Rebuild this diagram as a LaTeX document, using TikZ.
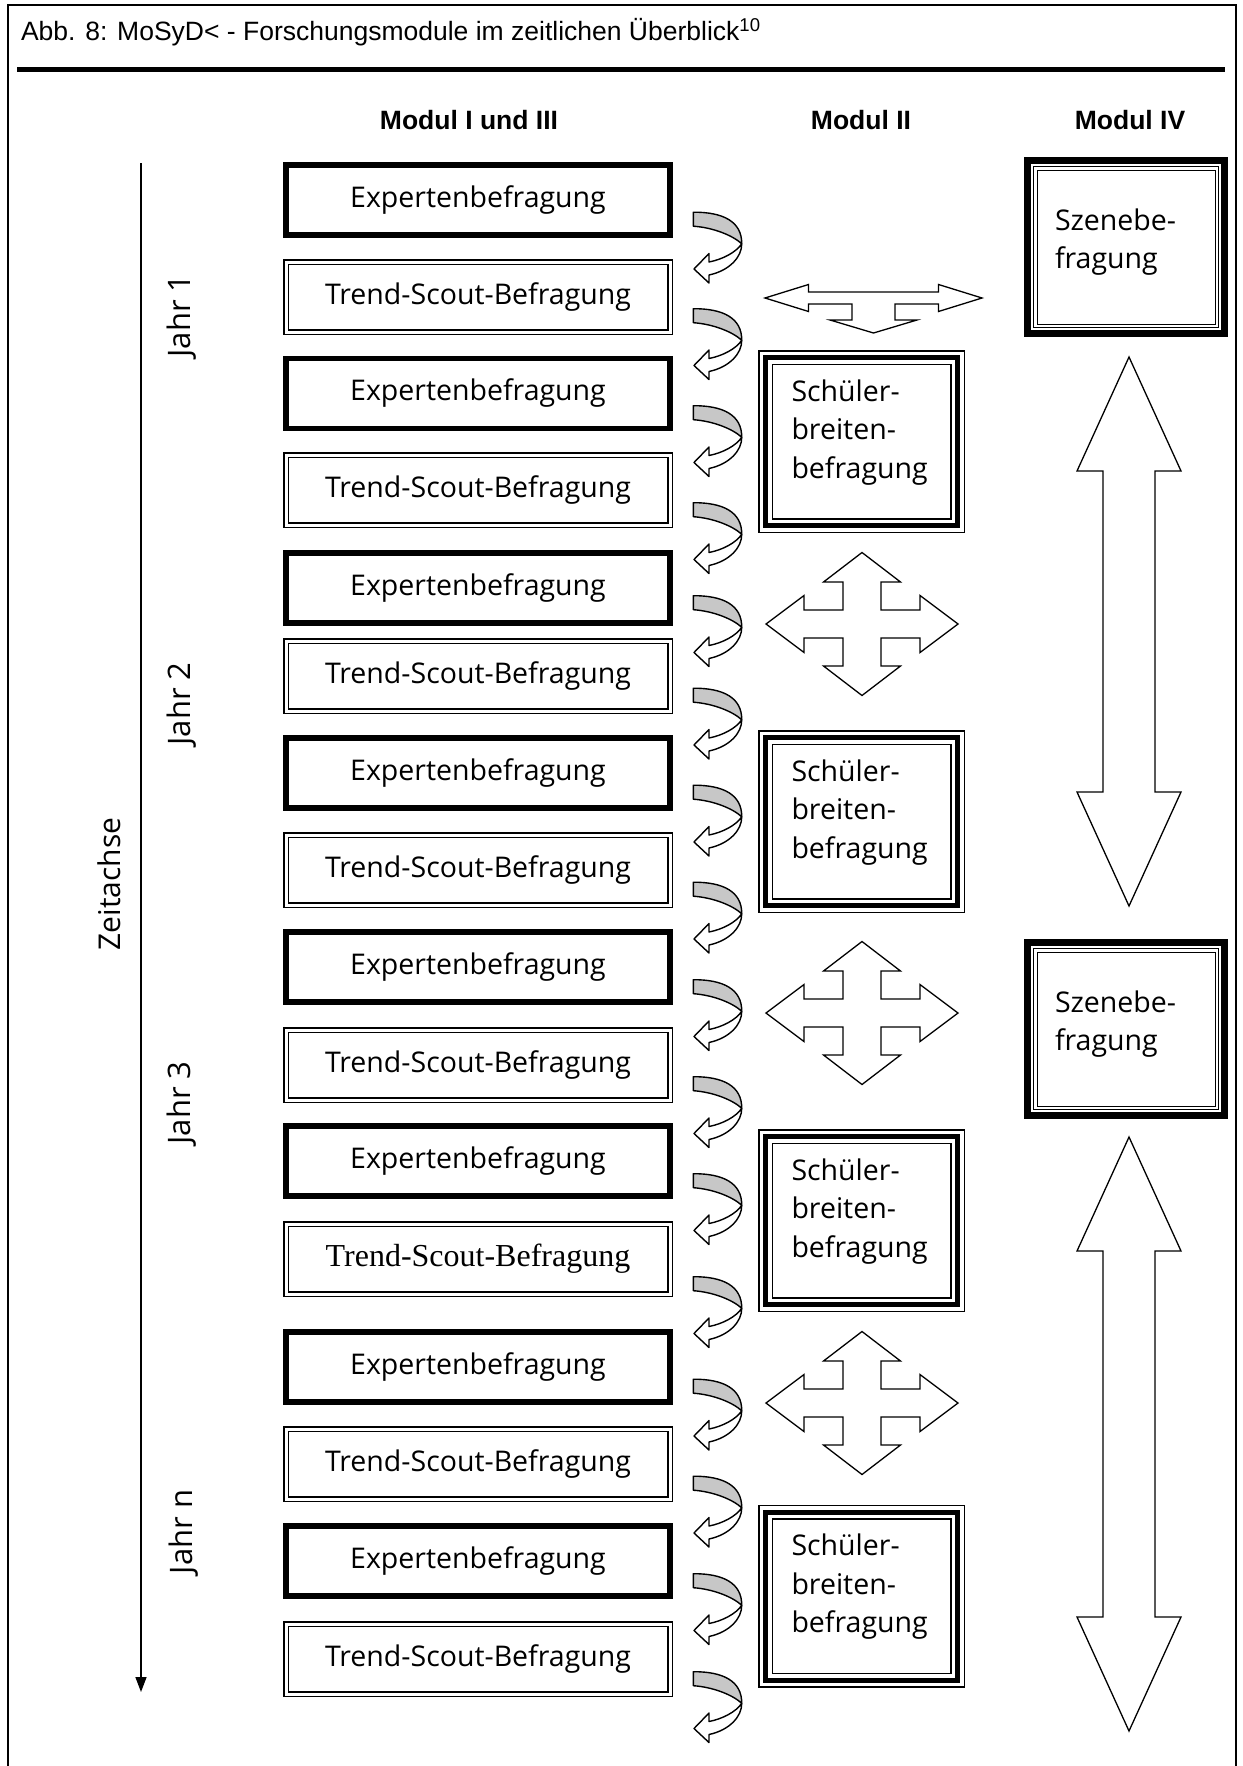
\documentclass[tikz,border=0pt]{standalone}
\usepackage{fontspec}
\setmainfont{Open Sans}
\newfontfamily\headfont{Liberation Sans}
\newfontfamily\timesfont{Liberation Serif}
\usetikzlibrary{arrows.meta,calc}

\begin{document}
\begin{tikzpicture}[
            x=1pt, y=-1pt,
            every node/.style={outer sep=0pt, inner sep=0pt},
            boxtext/.style={font=\fontsize{28.5}{38.5}\selectfont},
            expbox/.style={boxtext, draw, line width=5.5pt,
                minimum width=384pt, minimum height=70pt},
            trendbox/.style={boxtext, draw, double, line width=1.3pt,
                double distance=3pt, minimum width=384pt, minimum height=70pt},
            schuelerbox/.style={boxtext, draw, line width=5pt,
                preaction={draw, double, line width=1.5pt, double distance=12pt},
                minimum width=192pt, minimum height=168pt, text depth=102pt,
                text width=140pt, inner xsep=26pt, align=left},
            szenebox/.style={boxtext, draw, line width=7pt,
                minimum width=197pt, minimum height=173pt, text depth=55pt,
                text width=142pt, inner xsep=27.5pt, align=left},
            innerframe/.style={draw, double, line width=1pt, double distance=2.5pt},
            blockarrow/.style={draw, fill=white, line width=1.3pt, line join=miter},
            curlline/.style={draw, line width=1.4pt, line join=round},
            head/.style={font=\headfont\bfseries\fontsize{26.5}{30}\selectfont},
            jahr/.style={font=\fontsize{31}{36}\selectfont, rotate=90},
            pics/curl/.style={code={
                \draw[curlline, fill=black!22] (-24.7,-36.3)
                    .. controls (5,-36.5) and (24,-27) .. (23.7,-4.7)
                    .. controls (15,-13) and (-5,-21) .. (-24.7,-22.3) -- cycle;
                \draw[curlline, fill=white] (23.7,-4.7)
                    .. controls (24,8) and (12,22) .. (-9,26.5)
                    -- (-9,34.5) -- (-24,20.5) -- (-9,5) -- (-9,13.5)
                    .. controls (4,11) and (18,4) .. (23.7,-4.7) -- cycle;
            }},
            pics/tarrow/.style={code={
                \draw[blockarrow] (-108.5,0) -- (-65,-13.5) -- (-65,-6) -- (65,-6)
                    -- (65,-13.5) -- (108.5,0) -- (65,13.5) -- (65,6) -- (21.5,6)
                    -- (21.5,22) -- (43.5,22) -- (0,35) -- (-43.5,22) -- (-21.5,22)
                    -- (-21.5,6) -- (-65,6) -- (-65,13.5) -- cycle;
            }},
            pics/cross/.style={code={
                \draw[blockarrow] (96,0) -- (58,-28.5) -- (58,-14) -- (19,-14)
                    -- (19,-42) -- (38.5,-42) -- (0,-71.5) -- (-38.5,-42) -- (-19,-42)
                    -- (-19,-14) -- (-58,-14) -- (-58,-28.5) -- (-96,0) -- (-58,28.5)
                    -- (-58,14) -- (-19,14) -- (-19,42) -- (-38.5,42) -- (0,71.5)
                    -- (38.5,42) -- (19,42) -- (19,14) -- (58,14) -- (58,28.5) -- cycle;
            }},
            pics/bigarrow/.style={code={
                \draw[blockarrow] (0,0) -- (52,114) -- (26,114) -- (26,#1-114)
                    -- (52,#1-114) -- (0,#1) -- (-52,#1-114) -- (-26,#1-114)
                    -- (-26,114) -- (-52,114) -- cycle;
            }}]
        \useasboundingbox (0,0) rectangle (1242,1766);

        % frame and title
        \draw[line width=2pt] (8,1766) -- (8,5) -- (1236,5) -- (1236,1766);
        \draw[line width=5pt] (17,70) -- (1225,70);
        \node[anchor=base west, font=\headfont\fontsize{26.5}{30}\selectfont] (title) at (21,41)
            {Abb. 8: MoSyD< - Forschungsmodule im zeitlichen Überblick\textsuperscript{10}};

        % column heads
        \node[head] (modA) at (469,120) {Modul I und III};
        \node[head] (modB) at (861,120) {Modul II};
        \node[head] (modC) at (1130,120) {Modul IV};

        % time axis
        \coordinate (tstart) at (141,163);
        \coordinate (tend) at (141,1692);
        \draw[line width=1.5pt, -{Triangle[length=15pt,width=11pt]}] (tstart) -- (tend);
        \node[jahr, font=\fontsize{30}{36}\selectfont] (achse) at (109,884) {Zeitachse};
        \node[jahr] (jahr1) at (182,316) {Jahr 1};
        \node[jahr] (jahr2) at (182,704) {Jahr 2};
        \node[jahr] (jahr3) at (182,1103) {Jahr 3};
        \node[jahr] (jahrn) at (184,1532) {Jahr n};

        % Modul I und III
        \node[expbox] (e1) at (478,200) {Expertenbefragung};
        \node[trendbox] (t1) at (478,297) {Trend-Scout-Befragung};
        \node[expbox] (e2) at (478,393.5) {Expertenbefragung};
        \node[trendbox] (t2) at (478,490) {Trend-Scout-Befragung};
        \node[expbox] (e3) at (478,588) {Expertenbefragung};
        \node[trendbox] (t3) at (478,676) {Trend-Scout-Befragung};
        \node[expbox] (e4) at (478,773) {Expertenbefragung};
        \node[trendbox] (t4) at (478,870) {Trend-Scout-Befragung};
        \node[expbox] (e5) at (478,967) {Expertenbefragung};
        \node[trendbox] (t5) at (478,1065) {Trend-Scout-Befragung};
        \node[expbox] (e6) at (478,1161) {Expertenbefragung};
        \node[trendbox, font=\timesfont\fontsize{32}{38}\selectfont] (t6) at (478,1259)
            {Trend-Scout-Befragung};
        \node[expbox] (e7) at (478,1367) {Expertenbefragung};
        \node[trendbox] (t7) at (478,1464) {Trend-Scout-Befragung};
        \node[expbox] (e8) at (478,1561) {Expertenbefragung};
        \node[trendbox] (t8) at (478,1659) {Trend-Scout-Befragung};

        \foreach \y [count=\i] in {248.5,345,442,539,632,724.5,821.5,918.5,
                1016,1113,1210,1313,1415.5,1512.5,1610,1708}
            \pic (curl\i) at (718,\y) {curl};

        % Modul II
        \node[schuelerbox] (s1) at (861.5,441.5) {Schüler-\\breiten-\\befragung};
        \node[schuelerbox] (s2) at (861.5,821.5) {Schüler-\\breiten-\\befragung};
        \node[schuelerbox] (s3) at (861.5,1220.5) {Schüler-\\breiten-\\befragung};
        \node[schuelerbox] (s4) at (861.5,1596) {Schüler-\\breiten-\\befragung};
        \pic (split) at (873.5,298) {tarrow};
        \pic (cross1) at (862,624) {cross};
        \pic (cross2) at (862,1013) {cross};
        \pic (cross3) at (862,1403) {cross};

        % Modul IV
        \node[szenebox] (sz1) at (1126,247) {Szenebe-\\fragung};
        \node[szenebox] (sz2) at (1126,1029) {Szenebe-\\fragung};
        \draw[innerframe] ($(sz1.north west)+(7.75,7.75)$) rectangle ($(sz1.south east)-(7.75,7.75)$);
        \draw[innerframe] ($(sz2.north west)+(7.75,7.75)$) rectangle ($(sz2.south east)-(7.75,7.75)$);
        \pic (long1) at (1129,357) {bigarrow=549};
        \pic (long2) at (1129,1137) {bigarrow=594};
\end{tikzpicture}
\end{document}
